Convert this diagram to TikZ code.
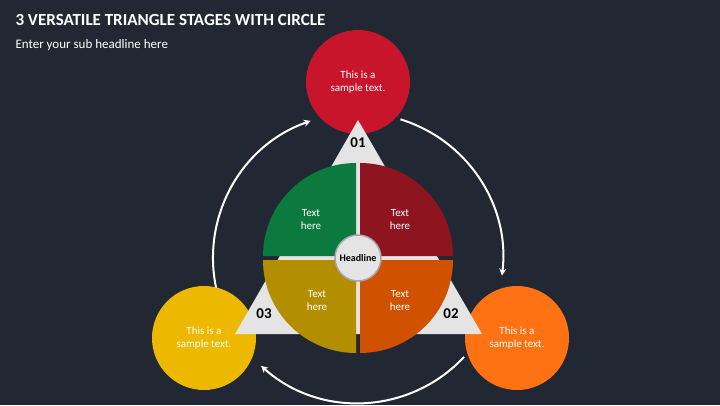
\documentclass[tikz,border=0pt]{standalone}
\usepackage{fontspec}
\setmainfont{Carlito}
\usetikzlibrary{arrows.meta}
\definecolor{bg}{HTML}{222833}
\definecolor{cred}{HTML}{C8152B}
\definecolor{qred}{HTML}{8E1520}
\definecolor{qgreen}{HTML}{0C7A3E}
\definecolor{qgold}{HTML}{B38F00}
\definecolor{qorange}{HTML}{D05200}
\definecolor{corange}{HTML}{FF7214}
\definecolor{cyellow}{HTML}{EDB900}
\definecolor{tri}{HTML}{E4E4E4}
\tikzset{
 big/.style={circle,minimum size=104pt,inner sep=0pt,text=white,font=\fontsize{11}{13}\selectfont,align=center},
 qtext/.style={text=white,font=\fontsize{11}{13}\selectfont,align=center},
 num/.style={font=\bfseries\fontsize{15}{17}\selectfont,text=black},
 arr/.style={white,line width=2pt,-{Stealth[length=7pt,width=7pt]}}
}
\begin{document}
\begin{tikzpicture}[x=1pt,y=1pt]
\fill[bg] (0,0) rectangle (720,405);
\useasboundingbox (0,0) rectangle (720,405);
\node[anchor=west,text=white,font=\bfseries\fontsize{17}{20}\selectfont] (title) at (12,385) {3 VERSATILE TRIANGLE STAGES WITH CIRCLE};
\node[anchor=west,text=white,font=\fontsize{13}{15}\selectfont] (sub) at (12,360) {Enter your sub headline here};
\coordinate (c) at (358,147);
% arrows
\draw[arr] (c) ++(73:145) arc[start angle=73,end angle=-7,radius=145];
\draw[arr] (c) ++(-43:145) arc[start angle=-43,end angle=-132,radius=145];
\draw[arr] (c) ++(193:145) arc[start angle=193,end angle=109,radius=145];
% circles
\node[big,fill=cred] (top) at (358,323) {This is a\\sample text.};
\node[big,fill=corange] (right) at (517,67) {This is a\\sample text.};
\node[big,fill=cyellow] (left) at (204,67) {This is a\\sample text.};
% triangle
\fill[tri] (358,285) -- (235,71) -- (482,71) -- cycle;
% quadrants
\fill[qred] (360,149) -- ++(0,93) arc[start angle=90,end angle=0,radius=93] -- cycle;
\fill[qgreen] (356,149) -- ++(-93,0) arc[start angle=180,end angle=90,radius=93] -- cycle;
\fill[qgold] (356,145) -- ++(0,-93) arc[start angle=270,end angle=180,radius=93] -- cycle;
\fill[qorange] (360,145) -- ++(93,0) arc[start angle=0,end angle=-90,radius=93] -- cycle;
\node[circle,fill=tri,draw=gray!70,line width=1.5pt,minimum size=46pt,inner sep=0pt,font=\bfseries\fontsize{10}{12}\selectfont] (head) at (c) {Headline};
\node[qtext] (t1) at (311,185) {Text\\here};
\node[qtext] (t2) at (400,185) {Text\\here};
\node[qtext] (t3) at (317,104) {Text\\here};
\node[qtext] (t4) at (400,104) {Text\\here};
\node[num] (n1) at (358,262) {01};
\node[num] (n2) at (451,91) {02};
\node[num] (n3) at (264,91) {03};
\end{tikzpicture}
\end{document}
